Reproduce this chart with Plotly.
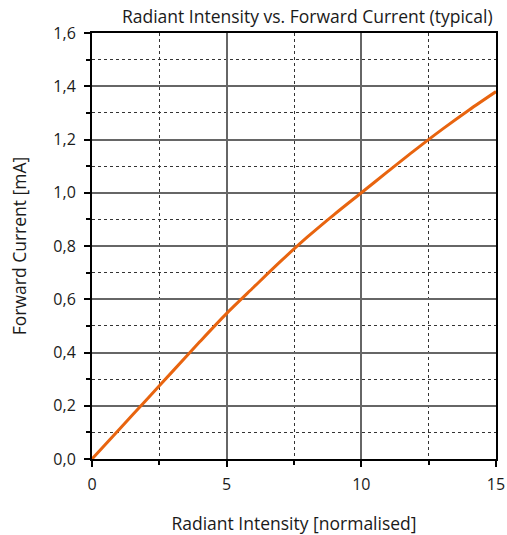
import plotly.graph_objects as go

intensity = [0, 1, 2, 3, 4, 5, 6, 7, 8, 9, 10, 11, 12, 13, 14, 15]
current = [0, 0.11, 0.22, 0.33, 0.44, 0.547, 0.645, 0.742, 0.834, 0.919, 1.0, 1.081, 1.161, 1.238, 1.311, 1.38]

fig = go.Figure()
fig.add_trace(go.Scatter(x=intensity, y=current, mode="lines",
                         line=dict(color="#E8640F", width=3, shape="spline", smoothing=0.8),
                         showlegend=False))

font = dict(family="Open Sans, DejaVu Sans, sans-serif", color="#1a1a1a")
fig.update_layout(
    width=507, height=535,
    margin=dict(l=92, r=11, t=33, b=76, autoexpand=False),
    paper_bgcolor="white", plot_bgcolor="white",
    separators=",.",
    font=dict(size=16, **font),
    title=dict(text="Radiant Intensity vs. Forward Current (typical)", x=0.606, xanchor="center",
               y=0.968, yanchor="middle", font=dict(size=17.5, **font), automargin=False),
)
fig.update_xaxes(
    range=[0, 15], tickvals=[0, 5, 10, 15], ticks="outside", ticklen=6, tickwidth=1.5, tickcolor="black",
    showline=True, linecolor="black", linewidth=2, mirror=True, automargin=False,
    ticklabeloverflow="allow", ticklabelstandoff=4,
    showgrid=True, gridcolor="#666666", gridwidth=1.5,
    minor=dict(tickvals=[2.5, 7.5, 12.5], ticks="outside", ticklen=4, tickcolor="black",
               showgrid=True, gridcolor="#333333", griddash="dot", gridwidth=1),
    title=dict(text="Radiant Intensity [normalised]", standoff=24, font=dict(size=17.5)),
    zeroline=False,
)
fig.update_yaxes(
    range=[0, 1.6], dtick=0.2, tickformat=".1f", ticks="outside", ticklen=6, tickwidth=1.5, tickcolor="black",
    showline=True, linecolor="black", linewidth=2, mirror=True, automargin=False,
    ticklabelstandoff=5,
    showgrid=True, gridcolor="#666666", gridwidth=1.5,
    minor=dict(dtick=0.1, ticks="outside", ticklen=4, tickcolor="black",
               showgrid=True, gridcolor="#333333", griddash="dot", gridwidth=1),
    title=dict(text="Forward Current [mA]", standoff=22, font=dict(size=17.5)),
    zeroline=False,
)
fig.write_html("out.html", config={"displayModeBar": False},
               post_script="document.body.style.margin='0';document.body.style.overflow='hidden';")
